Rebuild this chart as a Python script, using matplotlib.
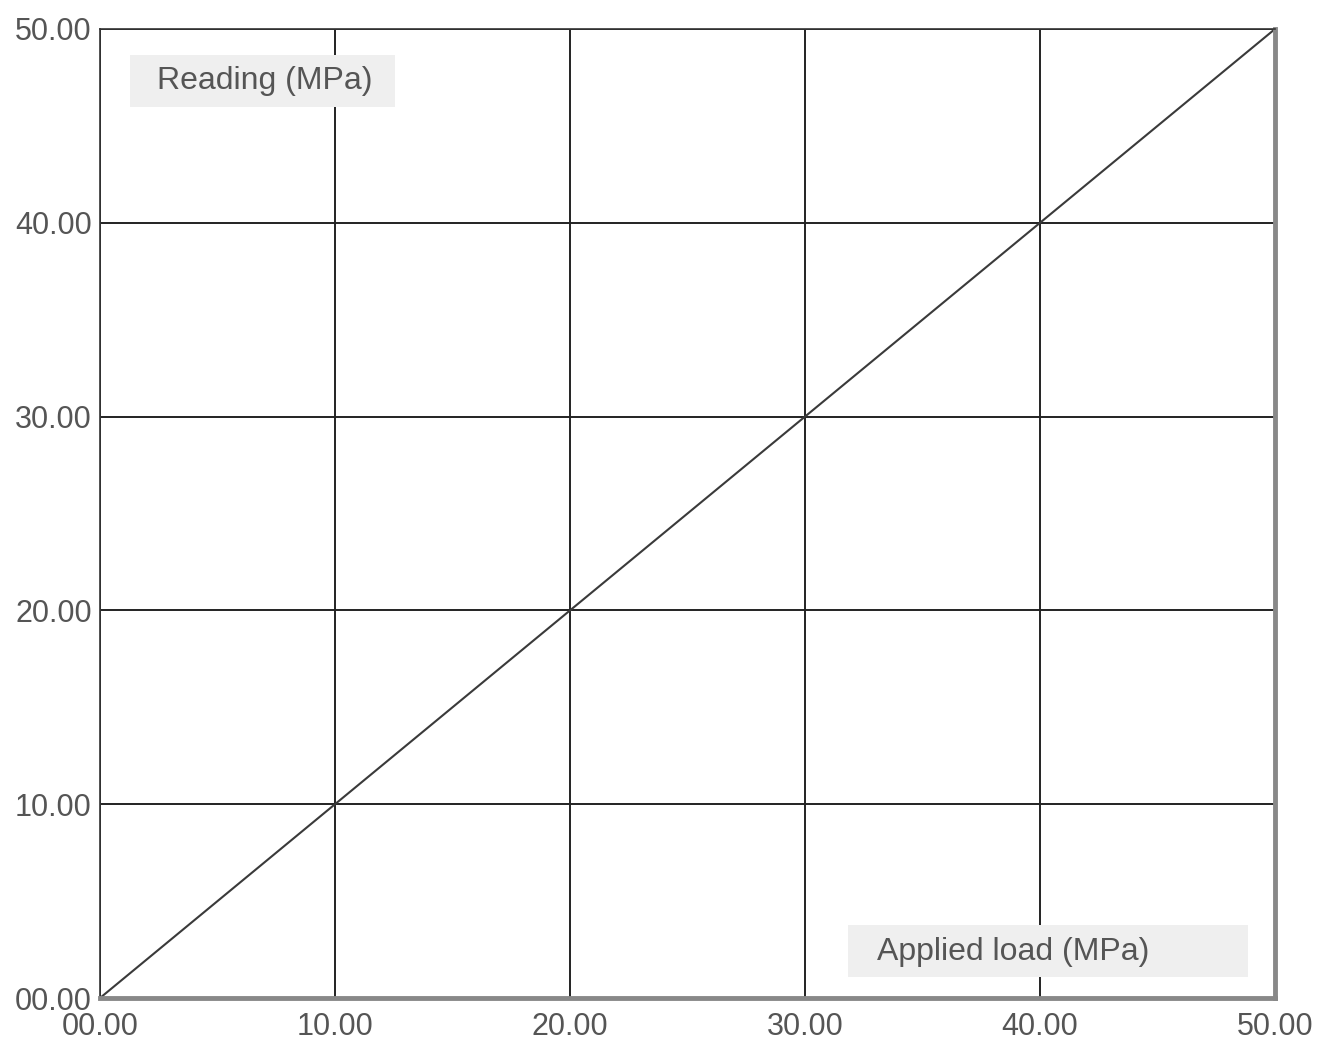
import matplotlib.pyplot as plt
from matplotlib.ticker import FormatStrFormatter
from matplotlib.patches import Rectangle

# calibration data
applied_load = [0, 10, 20, 30, 40, 50]
reading = [0, 10, 20, 30, 40, 50]
ticks = [0, 10, 20, 30, 40, 50]

plt.rcParams['font.family'] = ['Liberation Sans', 'DejaVu Sans']

fig = plt.figure(figsize=(13.28, 10.43), dpi=100)
ax = fig.add_axes([100/1328, 1-998/1043, 1175/1328, 969/1043])

ax.plot(applied_load, reading, color='#3a3a3a', lw=1.5)
ax.set_xlim(0, 50)
ax.set_ylim(0, 50)
ax.set_xticks(ticks)
ax.set_yticks(ticks)
ax.xaxis.set_major_formatter(FormatStrFormatter('%05.2f'))
ax.yaxis.set_major_formatter(FormatStrFormatter('%05.2f'))
ax.grid(True, color='#222222', lw=1.4)
ax.tick_params(length=0, labelsize=22, labelcolor='#555555', pad=6)
ax.tick_params(axis='x', pad=10)

for s in ['top', 'left']:
    ax.spines[s].set_color('#333333')
    ax.spines[s].set_linewidth(1.2)
for s in ['bottom', 'right']:
    ax.spines[s].set_color('#888888')
    ax.spines[s].set_linewidth(3.5)

# label boxes
ax.add_patch(Rectangle((0.0255, 0.9195), 0.2255, 0.0535, transform=ax.transAxes,
                       facecolor='#efefef', edgecolor='none', zorder=3))
ax.add_patch(Rectangle((0.6366, 0.0217), 0.3404, 0.0536, transform=ax.transAxes,
                       facecolor='#efefef', edgecolor='none', zorder=3))
ax.text(0.0485, 0.946, 'Reading (MPa)', transform=ax.transAxes, fontsize=23,
        color='#555555', ha='left', va='center', zorder=4)
ax.text(0.661, 0.0475, 'Applied load (MPa)', transform=ax.transAxes, fontsize=23,
        color='#555555', ha='left', va='center', zorder=4)

fig.savefig('out.png', dpi=100)
